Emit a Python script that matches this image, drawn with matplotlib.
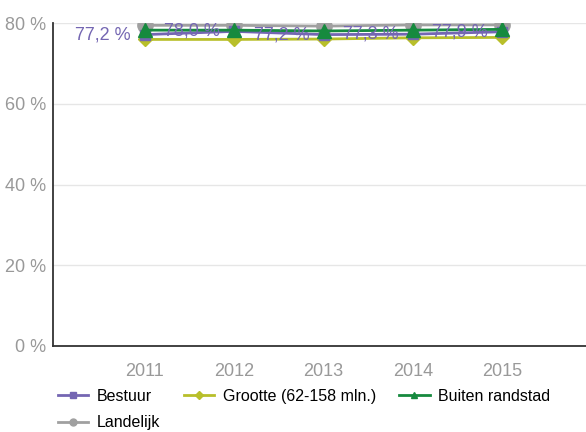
import matplotlib
matplotlib.use("Agg")
import matplotlib.pyplot as plt
from matplotlib.lines import Line2D

plt.rcParams['font.family'] = ['Liberation Sans', 'DejaVu Sans']

years = ['2011', '2012', '2013', '2014', '2015']
bestuur = [77.2, 78.0, 77.2, 77.3, 77.9]
bestuur_labels = ['77,2 %', '78,0 %', '77,2 %', '77,3 %', '77,9 %']
grootte = [76.0, 76.0, 76.1, 76.4, 76.5]
buiten = [78.3, 78.3, 78.1, 78.3, 78.5]
landelijk = [79.5, 79.5, 79.3, 79.6, 79.6]
yticks = [0, 20, 40, 60, 80]
ytick_labels = ['0 %', '20 %', '40 %', '60 %', '80 %']

c_best = '#7466b2'
c_groot = '#b8bf2a'
c_buiten = '#168a3e'
c_land = '#a0a0a0'

fig = plt.figure(figsize=(5.86, 4.32), dpi=100)
ax = fig.add_axes([53/586, 1-346/432, 1-53/586, (346-23.3)/432])

x = list(range(len(years)))
l_land, = ax.plot(x, landelijk, color=c_land, lw=2, marker='o', ms=11, zorder=3, label='Landelijk')
l_groot, = ax.plot(x, grootte, color=c_groot, lw=2, marker='D', ms=7, zorder=4, label='Grootte (62-158 mln.)')
l_best, = ax.plot(x, bestuur, color=c_best, lw=2, marker='s', ms=7, zorder=5, label='Bestuur')
l_buit, = ax.plot(x, buiten, color=c_buiten, lw=2, marker='^', ms=10, zorder=6, label='Buiten randstad')

for xi, yi, lab in zip(x, bestuur, bestuur_labels):
    ax.annotate(lab, (xi, yi), xytext=(-14, 0), textcoords='offset pixels',
                ha='right', va='center', color=c_best, fontsize=13, zorder=7)

ax.set_xlim(-1.03, 4.94)
ax.set_ylim(0, 80)
ax.set_xticks(x)
ax.set_xticklabels(years)
ax.set_yticks(yticks)
ax.set_yticklabels(ytick_labels)
ax.tick_params(axis='both', length=0, colors='#999999', labelsize=13)
ax.tick_params(axis='x', pad=12)
ax.tick_params(axis='y', pad=5)
ax.grid(axis='y', color='#e6e6e6', lw=1)
ax.set_axisbelow(True)
for s in ['top', 'right']:
    ax.spines[s].set_visible(False)
for s in ['left', 'bottom']:
    ax.spines[s].set_color('#333333')
    ax.spines[s].set_linewidth(1.3)
ax.spines['left'].set_zorder(10)

handles = [Line2D([], [], color=c_best, lw=2, marker='s', ms=5),
           Line2D([], [], color=c_land, lw=2, marker='o', ms=5),
           Line2D([], [], color=c_groot, lw=2, marker='D', ms=4),
           Line2D([], [], color=c_buiten, lw=2, marker='^', ms=5)]
labels = ['Bestuur', 'Landelijk', 'Grootte (62-158 mln.)', 'Buiten randstad']
fig.legend(handles, labels, ncol=3, loc='upper left', bbox_to_anchor=(58/586, 1-389/432),
           frameon=False, fontsize=11.5, handlelength=1.9, handletextpad=0.55,
           columnspacing=1.45, labelspacing=0.7, borderpad=0, borderaxespad=0)

fig.savefig('out.png', dpi=100)
